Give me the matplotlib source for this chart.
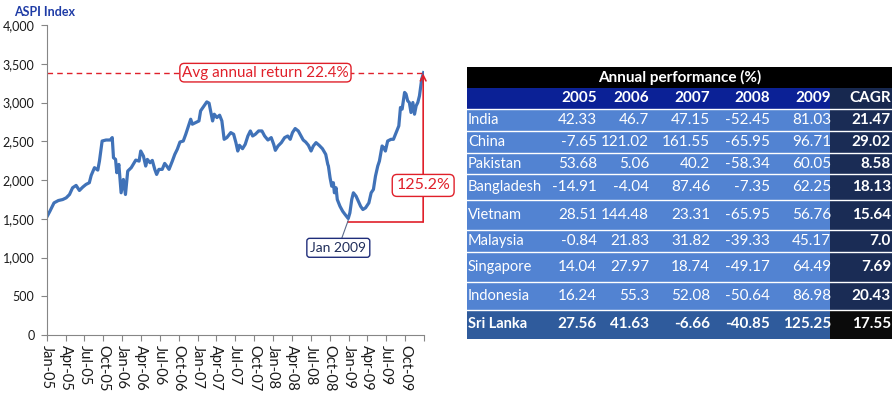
import matplotlib.pyplot as plt
import matplotlib.dates as mdates
from matplotlib.patches import Rectangle
from matplotlib.ticker import FuncFormatter, MultipleLocator
import pandas as pd

plt.rcParams['font.family'] = ['Lato', 'DejaVu Sans']

# ASPI index
dates = ['2005-01-02', '2005-01-15', '2005-02-04', '2005-02-25', '2005-03-18', '2005-04-04',
         '2005-04-20', '2005-05-05', '2005-05-22', '2005-06-07', '2005-06-23', '2005-07-09',
         '2005-07-25', '2005-08-03', '2005-08-19', '2005-09-04', '2005-09-12', '2005-09-25',
         '2005-10-14', '2005-11-03', '2005-11-13', '2005-11-19', '2005-11-29', '2005-12-05',
         '2005-12-15', '2005-12-26', '2006-01-06', '2006-01-16', '2006-01-27', '2006-02-13',
         '2006-03-07', '2006-03-23', '2006-03-31', '2006-04-13', '2006-04-24', '2006-05-02',
         '2006-05-15', '2006-05-26', '2006-06-07', '2006-06-16', '2006-06-27', '2006-07-13',
         '2006-07-25', '2006-08-04', '2006-08-15', '2006-08-31', '2006-09-12', '2006-09-24',
         '2006-10-07', '2006-10-23', '2006-11-04', '2006-11-15', '2006-11-28', '2006-12-06',
         '2006-12-22', '2007-01-07', '2007-01-15', '2007-02-01', '2007-02-14', '2007-02-25',
         '2007-03-06', '2007-03-14', '2007-03-22', '2007-04-04', '2007-04-17', '2007-04-28',
         '2007-05-09', '2007-05-22', '2007-06-10', '2007-06-24', '2007-07-05', '2007-07-14',
         '2007-07-22', '2007-08-06', '2007-08-19', '2007-09-01', '2007-09-13', '2007-09-24',
         '2007-10-07', '2007-10-23', '2007-11-08', '2007-11-21', '2007-12-07', '2007-12-23',
         '2008-01-04', '2008-01-12', '2008-01-25', '2008-02-10', '2008-02-26', '2008-03-12',
         '2008-03-24', '2008-04-04', '2008-04-17', '2008-05-02', '2008-05-15', '2008-05-26',
         '2008-06-07', '2008-06-20', '2008-07-03', '2008-07-14', '2008-07-27', '2008-08-11',
         '2008-08-27', '2008-09-12', '2008-09-22', '2008-09-25', '2008-10-03', '2008-10-11',
         '2008-10-19', '2008-10-24', '2008-11-01', '2008-11-07', '2008-11-20', '2008-12-03',
         '2008-12-15', '2008-12-30', '2009-01-07', '2009-01-16', '2009-01-24', '2009-02-06',
         '2009-02-17', '2009-02-28', '2009-03-11', '2009-03-24', '2009-04-09', '2009-04-20',
         '2009-05-01', '2009-05-11', '2009-05-22', '2009-05-30', '2009-06-12', '2009-06-20',
         '2009-06-28', '2009-07-09', '2009-07-25', '2009-08-06', '2009-08-19', '2009-09-01',
         '2009-09-09', '2009-09-17', '2009-09-29', '2009-10-06', '2009-10-14', '2009-10-22',
         '2009-10-30', '2009-11-08', '2009-11-16', '2009-11-24', '2009-12-02', '2009-12-10',
         '2009-12-18', '2009-12-21', '2009-12-30']
aspi = [1532, 1597, 1705, 1735, 1748, 1770, 1813, 1900, 1930, 1865, 1908, 1943,
        1965, 2059, 2159, 2128, 2244, 2503, 2516, 2516, 2547, 2288, 2266, 2094,
        2201, 1835, 2007, 1813, 2115, 2159, 2257, 2244, 2374, 2309, 2180, 2266,
        2223, 2253, 2137, 2072, 2137, 2137, 2214, 2180, 2137, 2244, 2331, 2396,
        2490, 2503, 2590, 2677, 2784, 2720, 2741, 2762, 2892, 2957, 3008, 2991,
        2871, 2762, 2849, 2806, 2836, 2762, 2525, 2547, 2612, 2590, 2482, 2374,
        2448, 2404, 2460, 2568, 2633, 2568, 2590, 2633, 2633, 2568, 2516, 2547,
        2460, 2383, 2439, 2482, 2547, 2568, 2525, 2612, 2664, 2633, 2568, 2516,
        2490, 2448, 2374, 2439, 2482, 2448, 2404, 2331, 2201, 2180, 2029, 1920,
        1965, 1835, 1900, 1748, 1661, 1597, 1554, 1503, 1576, 1748, 1835, 1791,
        1726, 1661, 1619, 1641, 1705, 1835, 1878, 2050, 2180, 2244, 2439, 2418,
        2374, 2503, 2525, 2525, 2612, 2698, 2936, 2914, 3130, 3108, 3021, 3000,
        2871, 3000, 2849, 2957, 3000, 3086, 3238, 3302, 3385]

years = ['2005', '2006', '2007', '2008', '2009']
countries = ['India', 'China', 'Pakistan', 'Bangladesh', 'Vietnam', 'Malaysia',
             'Singapore', 'Indonesia', 'Sri Lanka']
perf = [
    ['42.33', '46.7', '47.15', '-52.45', '81.03'],
    ['-7.65', '121.02', '161.55', '-65.95', '96.71'],
    ['53.68', '5.06', '40.2', '-58.34', '60.05'],
    ['-14.91', '-4.04', '87.46', '-7.35', '62.25'],
    ['28.51', '144.48', '23.31', '-65.95', '56.76'],
    ['-0.84', '21.83', '31.82', '-39.33', '45.17'],
    ['14.04', '27.97', '18.74', '-49.17', '64.49'],
    ['16.24', '55.3', '52.08', '-50.64', '86.98'],
    ['27.56', '41.63', '-6.66', '-40.85', '125.25'],
]
cagr = ['21.47', '29.02', '8.58', '18.13', '15.64', '7.0', '7.69', '20.43', '17.55']

avg_level = 3385
low_date = '2008-12-30'
end_date = '2009-12-28'

W, H = 896, 398
fig = plt.figure(figsize=(W / 100, H / 100), dpi=100)

# ---- line chart ----
ax = fig.add_axes([47 / W, 1 - 335 / H, (424 - 47) / W, (335 - 25) / H])
x = pd.to_datetime(dates)
ax.plot(x, aspi, color='#4072b8', lw=2.3, solid_joinstyle='round')

ax.set_ylim(0, 4000)
ax.set_xlim(pd.Timestamp('2005-01-01'), pd.Timestamp('2010-01-01'))
ax.yaxis.set_major_locator(MultipleLocator(500))
ax.yaxis.set_major_formatter(FuncFormatter(lambda v, p: f'{v:,.0f}'))
ax.xaxis.set_major_locator(mdates.MonthLocator(bymonth=[1, 4, 7, 10]))
ax.xaxis.set_major_formatter(mdates.DateFormatter('%b-%y'))
for lab in ax.xaxis.get_ticklabels():
    lab.set_rotation(270)
ax.tick_params(axis='x', labelsize=10.5, length=4, color='#868686', pad=3, labelcolor='#1a1a1a')
ax.tick_params(axis='y', labelsize=9, length=4, color='#868686', pad=5, labelcolor='#1a1a1a')
for s in ['top', 'right']:
    ax.spines[s].set_visible(False)
for s in ['left', 'bottom']:
    ax.spines[s].set_color('#868686')
fig.canvas.draw()
ticklabs = ax.get_xticklabels()
ticklabs[-1].set_visible(False)

fig.text(14 / W, 1 - 12 / H, 'ASPI Index', color='#1f3ca6', fontsize=9,
         fontweight='bold', va='center', ha='left')

red = '#e0202a'
ax.plot([pd.Timestamp('2005-01-01'), pd.Timestamp(end_date)], [avg_level, avg_level],
        color=red, lw=1, dashes=(4, 3))
ax.text(pd.Timestamp('2007-11-25'), avg_level, 'Avg annual return 22.4%', color=red,
        fontsize=11, ha='center', va='center',
        bbox=dict(boxstyle='round,pad=0.15,rounding_size=0.3', fc='white', ec=red, lw=1))
ax.plot([pd.Timestamp(low_date), pd.Timestamp(end_date)], [1460, 1460], color=red, lw=1.2)
ax.annotate('', xy=(pd.Timestamp(end_date), avg_level - 10),
            xytext=(pd.Timestamp(end_date), 1460),
            arrowprops=dict(arrowstyle='->', color=red, lw=1.2, shrinkA=0, shrinkB=0))
ax.text(pd.Timestamp(end_date), 1930, '125.2%', color=red, fontsize=11.5,
        ha='center', va='center', zorder=5,
        bbox=dict(boxstyle='round,pad=0.25,rounding_size=0.3', fc='white', ec=red, lw=1))
ax.annotate('Jan 2009', xy=(pd.Timestamp(low_date), 1480),
            xytext=(pd.Timestamp('2008-11-12'), 1125), color='#1f2d5a', fontsize=10,
            ha='center', va='center',
            bbox=dict(boxstyle='round,pad=0.25,rounding_size=0.2', fc='white', ec='#1f2d7a', lw=1),
            arrowprops=dict(arrowstyle='-', color='#5a6a8a', lw=0.8, shrinkA=0, shrinkB=0))

# ---- performance table ----
tx0, tx1 = 467, 892
row_edges = [67, 88, 109, 131, 153, 174, 200, 230, 252, 282, 310, 339]
col_right = [597, 649, 710, 770, 831]
cagr_left, cagr_right = 830, 891

tab = fig.add_axes([tx0 / W, 1 - 339 / H, (tx1 - tx0) / W, (339 - 67) / H])
tab.set_xlim(tx0, tx1)
tab.set_ylim(339, 67)
tab.axis('off')

def cell(y0, y1, x0, x1, color):
    tab.add_patch(Rectangle((x0, y0), x1 - x0, y1 - y0, fc=color, ec='none'))

# title row
cell(row_edges[0], row_edges[1], tx0, tx1, '#000000')
tab.text((tx0 + tx1) / 2, (row_edges[0] + row_edges[1]) / 2, 'Annual performance (%)',
         color='white', fontsize=11, fontweight='bold', ha='center', va='center')
# header row
cell(row_edges[1], row_edges[2], tx0, cagr_left, '#0b2196')
cell(row_edges[1], row_edges[2], cagr_left, tx1, '#17284f')
ym = (row_edges[1] + row_edges[2]) / 2
for yr, xr in zip(years, col_right):
    tab.text(xr, ym, yr, color='white', fontsize=11, fontweight='bold', ha='right', va='center')
tab.text(cagr_right, ym, 'CAGR', color='white', fontsize=11, fontweight='bold',
         ha='right', va='center')

for i, name in enumerate(countries):
    y0, y1 = row_edges[i + 2], row_edges[i + 3]
    ym = (y0 + y1) / 2
    last = name == 'Sri Lanka'
    cell(y0, y1, tx0, cagr_left, '#2f5b9c' if last else '#5283d2')
    cell(y0, y1, cagr_left, tx1, '#0b0b0b' if last else '#1a2c55')
    fw = 'bold' if last else 'normal'
    tab.text(tx0 + 1, ym, name, color='white', fontsize=10.5,
             fontweight=fw, ha='left', va='center')
    for v, xr in zip(perf[i], col_right):
        tab.text(xr, ym, v, color='white', fontsize=11,
                 fontweight=fw, ha='right', va='center')
    tab.text(cagr_right, ym, cagr[i], color='white', fontsize=11, fontweight='bold',
             ha='right', va='center')
    tab.plot([tx0, tx1], [y0, y0], color='white', lw=1)

fig.savefig('out.png', dpi=100)
